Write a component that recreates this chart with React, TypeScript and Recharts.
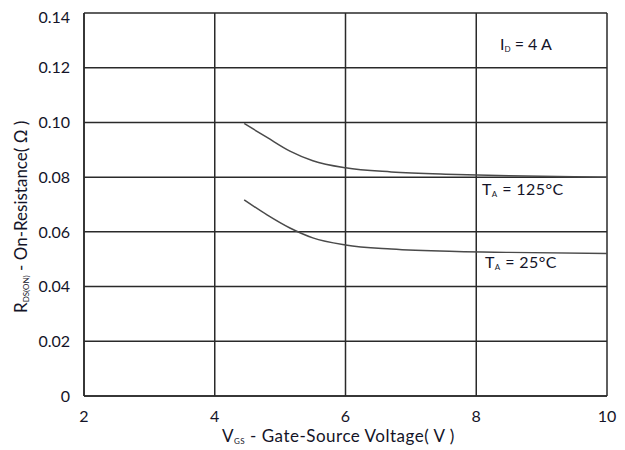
import React from "react";
import { LineChart, Line, XAxis, YAxis, CartesianGrid, Customized } from "recharts";

// Gate-source voltage (V) sample points
const vgs = [4.45, 4.8, 5.15, 5.5, 6, 6.7, 7.7, 8.5, 10];
// On-resistance (ohm) at TA = 125 °C
const r125 = [0.0996, 0.0945, 0.0895, 0.086, 0.0834, 0.0819, 0.081, 0.0805, 0.08];
// On-resistance (ohm) at TA = 25 °C
const r25 = [0.0717, 0.0662, 0.0614, 0.0578, 0.0552, 0.0537, 0.0528, 0.0525, 0.0521];

const xTicks = [2, 4, 6, 8, 10];
const yTicks = [0, 0.02, 0.04, 0.06, 0.08, 0.1, 0.12, 0.14];

const data = vgs.map((v, i) => ({ vgs: v, r125: r125[i], r25: r25[i] }));

const FONT = "Lato, 'Open Sans', sans-serif";
const TEXT = "#141428";
const GRID = "#2a2a2a";
const CURVE = "#4a4a4a";

const fmtY = (v: number) => (v === 0 ? "0" : v.toFixed(2));

const Annotations = () => (
  <g fontFamily={FONT} fill={TEXT}>
    <text x={492} y={42} fontSize={16}>
      I<tspan fontSize={8} dy={2}>D</tspan>
      <tspan dy={-2}> = 4 A</tspan>
    </text>
    <text x={474} y={187} fontSize={16} letterSpacing={0.4}>
      T<tspan fontSize={8} dy={2}>A</tspan>
      <tspan dy={-2}> = 125°C</tspan>
    </text>
    <text x={477} y={260} fontSize={16} letterSpacing={0.4}>
      T<tspan fontSize={8} dy={2}>A</tspan>
      <tspan dy={-2}> = 25°C</tspan>
    </text>
    <text x={214} y={434} fontSize={17} letterSpacing={0.5}>
      V<tspan fontSize={8} dy={2}>GS</tspan>
      <tspan dy={-2}> - Gate-Source Voltage( V )</tspan>
    </text>
    <text x={19} y={305} fontSize={17} transform="rotate(-90, 19, 305)">
      R<tspan fontSize={8} dy={2}>DS(ON)</tspan>
      <tspan dy={-2}> - On-Resistance( Ω )</tspan>
    </text>
  </g>
);

export default function App() {
  return (
    <div style={{ width: 617, height: 442, background: "#fff" }}>
      <LineChart
        width={617}
        height={442}
        data={data}
        margin={{ top: 5, right: 18, left: 0, bottom: 0 }}
      >
        <CartesianGrid stroke={GRID} strokeWidth={1.5} />
        <XAxis
          dataKey="vgs"
          type="number"
          domain={[2, 10]}
          ticks={xTicks}
          height={54}
          axisLine={{ stroke: GRID, strokeWidth: 1.5 }}
          tickLine={false}
          tick={{ fill: TEXT, fontSize: 16, fontFamily: FONT }}
          tickMargin={9}
        />
        <YAxis
          type="number"
          domain={[0, 0.14]}
          ticks={yTicks}
          width={76}
          tickFormatter={fmtY}
          axisLine={{ stroke: GRID, strokeWidth: 1.5 }}
          tickLine={false}
          tick={{ fill: TEXT, fontSize: 16, fontFamily: FONT }}
          tickMargin={8}
        />
        <Line
          dataKey="r125"
          type="monotone"
          stroke={CURVE}
          strokeWidth={1.5}
          dot={false}
          isAnimationActive={false}
        />
        <Line
          dataKey="r25"
          type="monotone"
          stroke={CURVE}
          strokeWidth={1.5}
          dot={false}
          isAnimationActive={false}
        />
        <Customized component={<Annotations />} />
      </LineChart>
    </div>
  );
}
